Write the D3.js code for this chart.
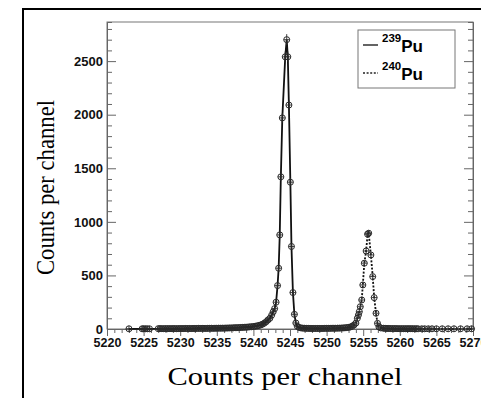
<!DOCTYPE html>
<html>
<head>
<meta charset="utf-8">
<script src="https://cdn.jsdelivr.net/npm/d3@7"></script>
<style>
  body { margin: 0; background: #fff; }
  svg { display: block; }
  .tick text { font-family: "Liberation Sans", Arial, sans-serif; font-weight: bold; fill: #111; }
</style>
</head>
<body>
<svg id="spec" width="481" height="398"></svg>
<script>
// tick labels
var xTicks = [5220, 5225, 5230, 5235, 5240, 5245, 5250, 5255, 5260, 5265, 5270];
var yTicks = [0, 500, 1000, 1500, 2000, 2500];

// 239Pu region: channel / counts
var channels239 = [5223.0, 5224.8, 5225.0, 5225.25, 5225.5, 5225.8,
  5227.0, 5227.25, 5227.5, 5227.75, 5228.0, 5228.25, 5228.5, 5228.75, 5229.0, 5229.25, 5229.5, 5229.75, 5230.0,
  5230.25, 5230.5, 5230.75, 5231.0, 5231.25, 5231.5, 5231.75, 5232.0, 5232.25, 5232.5, 5232.75, 5233.0,
  5233.25, 5233.5, 5233.75, 5234.0, 5234.25, 5234.5, 5234.75, 5235.0, 5235.25, 5235.5, 5235.75, 5236.0,
  5236.25, 5236.5, 5236.75, 5237.0, 5237.25, 5237.5, 5237.75, 5238.0, 5238.25, 5238.5, 5238.75, 5239.0,
  5239.25, 5239.5, 5239.75, 5240.0, 5240.25, 5240.5, 5240.75, 5241.0, 5241.25, 5241.5, 5241.75, 5242.0,
  5242.25, 5242.5, 5242.7, 5242.9, 5243.1, 5243.3, 5243.45, 5243.6, 5243.75, 5243.95,
  5244.35, 5244.55, 5244.7, 5244.85, 5245.05, 5245.2, 5245.4, 5245.6, 5245.8, 5246.0,
  5246.25, 5246.5, 5246.75, 5247.0, 5247.25, 5247.5, 5247.75, 5248.0, 5248.25, 5248.5, 5248.75, 5249.0,
  5249.25, 5249.5, 5249.75, 5250.0];
var counts239 = [2, 2, 2, 2, 2, 2,
  3, 4, 3, 3, 4, 3, 4, 3, 4, 4, 3, 4, 4,
  4, 4, 5, 4, 5, 4, 5, 5, 5, 6, 5, 6,
  6, 5, 6, 6, 7, 6, 7, 7, 8, 7, 8, 8,
  9, 9, 10, 10, 11, 12, 12, 13, 14, 15, 16, 17,
  18, 20, 21, 23, 26, 29, 33, 38, 45, 55, 68, 85,
  100, 130, 160, 190, 250, 405, 567, 878, 1420, 1970,
  2540, 2700, 2540, 2090, 1370, 770, 340, 137, 56, 25,
  14, 10, 8, 7, 6, 6, 5, 5, 5, 5, 5, 5,
  5, 5, 6, 6];

// 240Pu region
var channels240 = [5250.25, 5250.5, 5250.75, 5251.0, 5251.25, 5251.5, 5251.75, 5252.0,
  5252.25, 5252.5, 5252.75, 5253.0, 5253.25, 5253.5, 5253.75,
  5254.0, 5254.2, 5254.35, 5254.47, 5254.6, 5254.8, 5254.95, 5255.15, 5255.4, 5255.6, 5255.75,
  5256.05, 5256.3, 5256.5, 5256.75, 5256.95, 5257.15, 5257.4,
  5257.75, 5258.0, 5258.25, 5258.5, 5258.75, 5259.0, 5259.25, 5259.5, 5259.75, 5260.0,
  5260.25, 5260.5, 5260.75, 5261.0, 5261.25, 5261.5, 5261.75, 5262.0, 5262.25, 5262.5,
  5263.0, 5263.4, 5263.9, 5264.4, 5265.0, 5265.8, 5266.6, 5267.4, 5268.3, 5269.2, 5269.8];
var counts240 = [6, 6, 7, 7, 7, 8, 8, 9,
  10, 11, 13, 15, 19, 26, 38,
  55, 100, 131, 162, 208, 271, 411, 614, 728, 885, 894,
  691, 489, 293, 147, 53, 20, 10,
  7, 6, 5, 5, 4, 4, 4, 4, 3, 3,
  3, 3, 3, 3, 3, 3, 3, 2, 3, 2,
  2, 2, 2, 2, 2, 2, 2, 2, 2, 2, 2];

var svg = d3.select("#spec"),
    margin = {top: 22, right: 8, bottom: 69, left: 107},
    w = +svg.attr("width") - margin.left - margin.right,
    h = +svg.attr("height") - margin.top - margin.bottom;

svg.append("rect").attr("width", 481).attr("height", 398).attr("fill", "#fff");

// outer page frame (left and top edges only)
svg.append("path")
    .attr("d", "M23,398V9H481")
    .attr("fill", "none")
    .attr("stroke", "#000")
    .attr("stroke-width", 2);

var x = d3.scaleLinear().domain([5220, 5270]).range([0, w]);
var y = d3.scaleLinear().domain([0, 2865]).range([h, 0]);

var g = svg.append("g")
    .attr("transform", "translate(" + margin.left + "," + margin.top + ")");

g.append("rect")
    .attr("width", w).attr("height", h)
    .attr("fill", "none").attr("stroke", "#777").attr("stroke-width", 1);

// minor ticks
var xMinor = d3.range(5220, 5271, 1).filter(function(v) { return xTicks.indexOf(v) < 0; });
var yMinor = d3.range(0, 2865, 100).filter(function(v) { return yTicks.indexOf(v) < 0; });

g.append("g")
    .attr("transform", "translate(0," + h + ")")
    .call(d3.axisBottom(x).tickValues(xMinor).tickSize(4).tickFormat(""));
g.append("g")
    .attr("class", "x axis")
    .attr("transform", "translate(0," + h + ")")
    .call(d3.axisBottom(x).tickValues(xTicks).tickSize(7).tickPadding(2).tickFormat(d3.format("d")))
    .selectAll("text").style("font-size", "12.5px");

g.append("g")
    .call(d3.axisLeft(y).tickValues(yMinor).tickSize(-5).tickFormat(""));
g.append("g")
    .attr("class", "y axis")
    .call(d3.axisLeft(y).tickValues(yTicks).tickSizeInner(-9).tickSizeOuter(0).tickPadding(4)
      .tickFormat(d3.format("d")))
    .selectAll("text").style("font-size", "13px");

g.append("g")
    .attr("transform", "translate(" + w + ",0)")
    .call(d3.axisRight(y).tickValues(yMinor).tickSize(-5).tickFormat(""));
g.append("g")
    .attr("transform", "translate(" + w + ",0)")
    .call(d3.axisRight(y).tickValues(yTicks).tickSizeInner(-9).tickSizeOuter(0).tickFormat(""));

g.selectAll(".domain").attr("stroke", "#666");
g.selectAll(".tick line").attr("stroke", "#666");

var pts239 = channels239.map(function(c, i) { return {c: c, n: counts239[i]}; });
var pts240 = channels240.map(function(c, i) { return {c: c, n: counts240[i]}; });

var line = d3.line()
    .x(function(d) { return x(d.c); })
    .y(function(d) { return y(d.n); });

g.append("path").datum(pts239)
    .attr("d", line)
    .attr("fill", "none").attr("stroke", "#111").attr("stroke-width", 1.8);
g.append("path").datum(pts240)
    .attr("d", line)
    .attr("fill", "none").attr("stroke", "#111").attr("stroke-width", 1.8)
    .attr("stroke-dasharray", "2,1.6");

// data markers: open circle + error bars
var all = pts239.concat(pts240);
var mk = g.selectAll(".mk").data(all).enter().append("g")
    .attr("class", "mk")
    .attr("transform", function(d) { return "translate(" + x(d.c) + "," + y(d.n) + ")"; });
mk.append("circle").attr("r", 3)
    .attr("fill", "none").attr("stroke", "#2a2a2a").attr("stroke-width", 1);
mk.append("path")
    .attr("d", function(d) {
      var e = Math.max(3, y(0) - y(Math.sqrt(d.n)));
      return "M-3,0H3M0," + (-e) + "V" + e;
    })
    .attr("stroke", "#2a2a2a").attr("stroke-width", 0.9);

// legend
var lg = svg.append("g").attr("transform", "translate(358,30)");
lg.append("rect").attr("width", 97).attr("height", 58)
    .attr("fill", "#fff").attr("stroke", "#777");
var legendItems = [{iso: "239", dash: null}, {iso: "240", dash: "2,1.6"}];
legendItems.forEach(function(d, i) {
  var yy = 15 + i * 28;
  lg.append("line").attr("x1", 5).attr("x2", 20).attr("y1", yy).attr("y2", yy)
      .attr("stroke", "#222").attr("stroke-width", 1.4)
      .attr("stroke-dasharray", d.dash);
  var t = lg.append("text").attr("x", 24).attr("y", yy + 7)
      .style("font-family", "'Liberation Sans', Arial, sans-serif")
      .style("font-weight", "bold");
  t.append("tspan").attr("dy", -10).style("font-size", "11.5px").text(d.iso);
  t.append("tspan").attr("dy", 10).style("font-size", "17px").text("Pu");
});

// axis titles
svg.append("text")
    .attr("x", 285).attr("y", 385)
    .attr("text-anchor", "middle")
    .attr("textLength", 235).attr("lengthAdjust", "spacingAndGlyphs")
    .style("font-family", "'Liberation Serif', 'Times New Roman', serif")
    .style("font-size", "26px")
    .text("Counts per channel");

svg.append("text")
    .attr("transform", "translate(54,187.5) rotate(-90)")
    .attr("text-anchor", "middle")
    .attr("textLength", 175).attr("lengthAdjust", "spacingAndGlyphs")
    .style("font-family", "'Liberation Serif', 'Times New Roman', serif")
    .style("font-size", "25px")
    .text("Counts per channel");
</script>
</body>
</html>
